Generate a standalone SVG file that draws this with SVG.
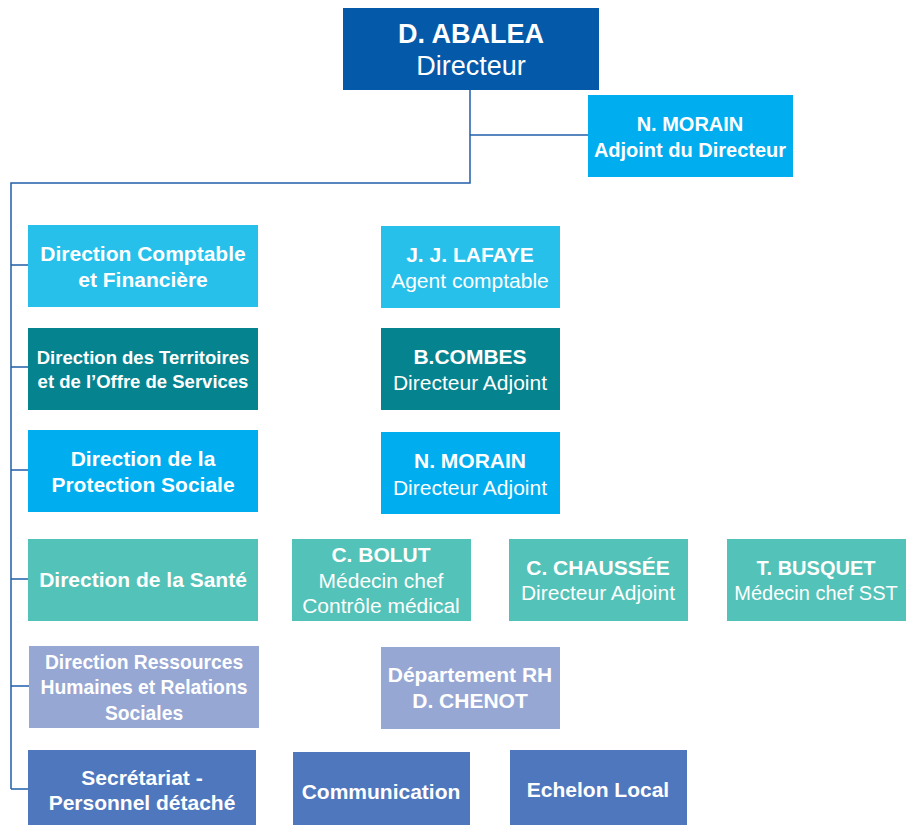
<svg xmlns="http://www.w3.org/2000/svg" width="912" height="825" viewBox="0 0 912 825">
<style>
text{font-family:"Liberation Sans",Arial,sans-serif;fill:#fff;text-anchor:middle}
.b{font-weight:bold;font-size:21px}
.r{font-size:21px}
.s{font-weight:bold;font-size:18.5px}
.m{font-weight:bold;font-size:20px}
.c1{fill:#27C0EB}.c2{fill:#05838F}.c3{fill:#00AEEF}.c4{fill:#53C2B8}.c5{fill:#97A7D3}.c6{fill:#4F77BE}
.ln{fill:none;stroke:#1F5FA8;stroke-width:1.5}
</style>
<rect width="912" height="825" fill="#fff"/>
<g id="connectors">
<path class="ln" d="M470,90V183H11V789"/>
<path class="ln" d="M470,135H588"/>
<path class="ln" d="M11,265H28M11,367H28M11,470H28M11,579H28M11,686H29M11,789H28"/>
</g>
<g id="abalea"><rect x="343" y="8" width="256" height="82" fill="#0459A9"/>
<text x="471" y="43" style="font-weight:bold;font-size:27px">D. ABALEA</text>
<text x="471" y="75" style="font-size:27px">Directeur</text></g>
<g id="morain-adj"><rect class="c3" x="588" y="95" width="205" height="82"/>
<text class="m" x="690" y="131">N. MORAIN</text><text class="m" x="690" y="157">Adjoint du Directeur</text></g>
<g id="dcf"><rect class="c1" x="28" y="225" width="230" height="82"/>
<text class="b" x="143" y="261">Direction Comptable</text><text class="b" x="143" y="287">et Financière</text></g>
<g id="dtos"><rect class="c2" x="28" y="328" width="230" height="82"/>
<text class="s" x="143" y="364">Direction des Territoires</text><text class="s" x="143" y="388">et de l’Offre de Services</text></g>
<g id="dps"><rect class="c3" x="28" y="430" width="230" height="82"/>
<text class="b" x="143" y="466">Direction de la</text><text class="b" x="143" y="492">Protection Sociale</text></g>
<g id="dsante"><rect class="c4" x="28" y="539" width="230" height="82"/>
<text class="b" x="143" y="587">Direction de la Santé</text></g>
<g id="drh"><rect class="c5" x="29" y="646" width="230" height="82"/>
<text class="b" x="144" y="669" style="font-size:19.3px">Direction Ressources</text><text class="b" x="144" y="694" style="font-size:19.3px">Humaines et Relations</text><text class="b" x="144" y="720" style="font-size:19.3px">Sociales</text></g>
<g id="secretariat"><rect class="c6" x="28" y="750" width="228" height="75"/>
<text class="b" x="142" y="785">Secrétariat -</text><text class="b" x="142" y="810">Personnel détaché</text></g>
<g id="lafaye"><rect class="c1" x="381" y="226" width="179" height="82"/>
<text class="b" x="470" y="262">J. J. LAFAYE</text><text class="r" x="470" y="288">Agent comptable</text></g>
<g id="combes"><rect class="c2" x="381" y="328" width="179" height="82"/>
<text class="b" x="470" y="364">B.COMBES</text><text class="r" x="470" y="390">Directeur Adjoint</text></g>
<g id="morain-da"><rect class="c3" x="381" y="432" width="179" height="82"/>
<text class="b" x="470" y="468">N. MORAIN</text><text class="r" x="470" y="495">Directeur Adjoint</text></g>
<g id="bolut"><rect class="c4" x="292" y="539" width="179" height="82"/>
<text class="b" x="381" y="562">C. BOLUT</text><text class="r" x="381" y="588">Médecin chef</text><text class="r" x="381" y="613">Contrôle médical</text></g>
<g id="chaussee"><rect class="c4" x="509" y="539" width="179" height="82"/>
<text class="b" x="598" y="575">C. CHAUSSÉE</text><text class="r" x="598" y="600">Directeur Adjoint</text></g>
<g id="busquet"><rect class="c4" x="727" y="539" width="179" height="82"/>
<text class="m" x="816" y="575">T. BUSQUET</text><text class="r" x="816" y="600" style="font-size:20px">Médecin chef SST</text></g>
<g id="deprh"><rect class="c5" x="381" y="647" width="179" height="82"/>
<text class="b" x="470" y="682">Département RH</text><text class="b" x="470" y="708">D. CHENOT</text></g>
<g id="communication"><rect class="c6" x="293" y="752" width="177" height="73"/>
<text class="b" x="381" y="799">Communication</text></g>
<g id="echelon"><rect class="c6" x="510" y="750" width="177" height="75"/>
<text class="b" x="598" y="797">Echelon Local</text></g>
</svg>
